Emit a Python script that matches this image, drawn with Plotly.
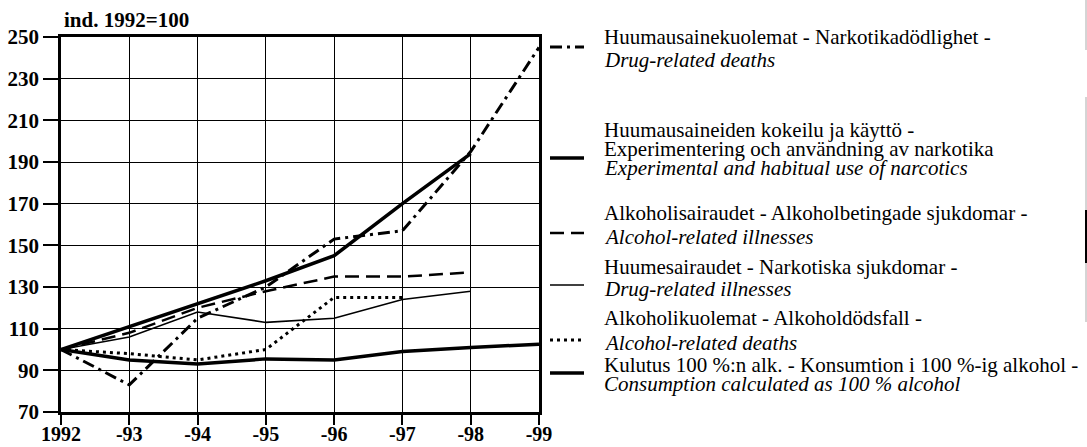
import plotly.graph_objects as go

# index 1992 = 100
years = [1992, 1993, 1994, 1995, 1996, 1997, 1998, 1999]
year_labels = ["1992", "-93", "-94", "-95", "-96", "-97", "-98", "-99"]

drug_deaths = [100, 83, 115, 130, 153, 157, 195, 245]
drug_use = [100, 111, 122, 133, 145, 170, 194]
alcohol_illnesses = [100, 108, 120, 128, 135, 135, 137]
drug_illnesses = [100, 106, 118, 113, 115, 124, 128]
alcohol_deaths = [100, 98, 95, 100, 125, 125]
consumption = [100, 95, 93, 95.5, 95, 99, 101, 102.5]

label_local = [
    ["Huumausainekuolemat - Narkotikadödlighet -"],
    ["Huumausaineiden kokeilu ja käyttö -", "Experimentering och användning av narkotika"],
    ["Alkoholisairaudet - Alkoholbetingade sjukdomar -"],
    ["Huumesairaudet - Narkotiska sjukdomar -"],
    ["Alkoholikuolemat - Alkoholdödsfall -"],
    ["Kulutus 100 %:n alk. - Konsumtion i 100 %-ig alkohol -"],
]
label_en = [
    "Drug-related deaths",
    "Experimental and habitual use of narcotics",
    "Alcohol-related illnesses",
    "Drug-related illnesses",
    "Alcohol-related deaths",
    "Consumption calculated as 100 % alcohol",
]

series = [drug_deaths, drug_use, alcohol_illnesses, drug_illnesses, alcohol_deaths, consumption]

# line styles, same order as series
styles = [
    dict(color="black", width=3, dash="12px,5px,3px,5px"),
    dict(color="black", width=3.5, dash="solid"),
    dict(color="black", width=2.5, dash="14px,7px"),
    dict(color="black", width=1.6, dash="solid"),
    dict(color="black", width=3, dash="3px,4px"),
    dict(color="black", width=3.5, dash="solid"),
]

FONT = "Liberation Serif, Times New Roman, Times, serif"

# plot area in pixels
L, T, W, H = 61, 37, 478, 375


def px_x(x):
    return (x - L) / W


def px_y(y):
    return 1 - (y - T) / H


fig = go.Figure()
for vals, st in zip(series, styles):
    fig.add_trace(go.Scatter(
        x=years[:len(vals)],
        y=vals,
        mode="lines",
        line=st,
        hoverinfo="skip"))

# legend drawn by hand: text line centres and symbol position (pixels)
text_rows = [[37, 60], [130, 149, 168], [213, 237], [267, 289], [318, 343], [365, 384]]
symbol_rows = [47, 158, 233, 285, 340, 373]

annotations = [dict(
    text="<b>ind. 1992=100</b>",
    x=px_x(62), y=px_y(20),
    xref="paper", yref="paper",
    xanchor="left", yanchor="middle",
    showarrow=False,
    font=dict(family=FONT, size=21))]
shapes = []
for k in range(len(series)):
    rows = text_rows[k]
    lines = label_local[k] + ["<i>" + label_en[k] + "</i>"]
    for txt, ry in zip(lines, rows):
        annotations.append(dict(
            text=txt,
            x=px_x(602), y=px_y(ry),
            xref="paper", yref="paper",
            xanchor="left", yanchor="middle",
            showarrow=False,
            font=dict(family=FONT, size=21)))
    shapes.append(dict(
        type="line",
        xref="paper", yref="paper",
        x0=px_x(550), x1=px_x(584),
        y0=px_y(symbol_rows[k]), y1=px_y(symbol_rows[k]),
        line=styles[k]))

# faint page edge from the scan, right side
for y0, y1, c, w in [(0, 50, "#aaaaaa", 1), (97, 322, "#aaaaaa", 1), (210, 263, "black", 2)]:
    shapes.append(dict(
        type="line",
        xref="paper", yref="paper",
        x0=px_x(1086), x1=px_x(1086),
        y0=px_y(y0), y1=px_y(y1),
        line=dict(color=c, width=w)))

fig.update_layout(
    width=1087,
    height=447,
    margin=dict(l=L, r=1087 - L - W, t=T, b=447 - T - H, autoexpand=False),
    plot_bgcolor="white",
    paper_bgcolor="white",
    showlegend=False,
    font=dict(family=FONT, size=21, color="black"),
    annotations=annotations,
    shapes=shapes)
fig.update_xaxes(
    range=[1992, 1999],
    tickvals=years,
    ticktext=year_labels,
    tickfont=dict(family=FONT, size=20, weight="bold"),
    ticklabelstandoff=-8,
    showgrid=True, gridcolor="black", gridwidth=1.3,
    showline=True, linecolor="black", linewidth=2.5, mirror=True,
    ticks="outside", ticklen=10, tickwidth=2, tickcolor="black",
    zeroline=False, automargin=False)
fig.update_yaxes(
    range=[70, 250],
    tick0=70, dtick=20,
    tickfont=dict(family=FONT, size=21, weight="bold"),
    showgrid=True, gridcolor="black", gridwidth=1.3,
    showline=True, linecolor="black", linewidth=2.5, mirror=True,
    ticks="outside", ticklen=15, tickwidth=2, tickcolor="black",
    zeroline=False, automargin=False)

fig.write_html("out.html", config={"displayModeBar": False},
               post_script="document.body.style.margin='0';")
